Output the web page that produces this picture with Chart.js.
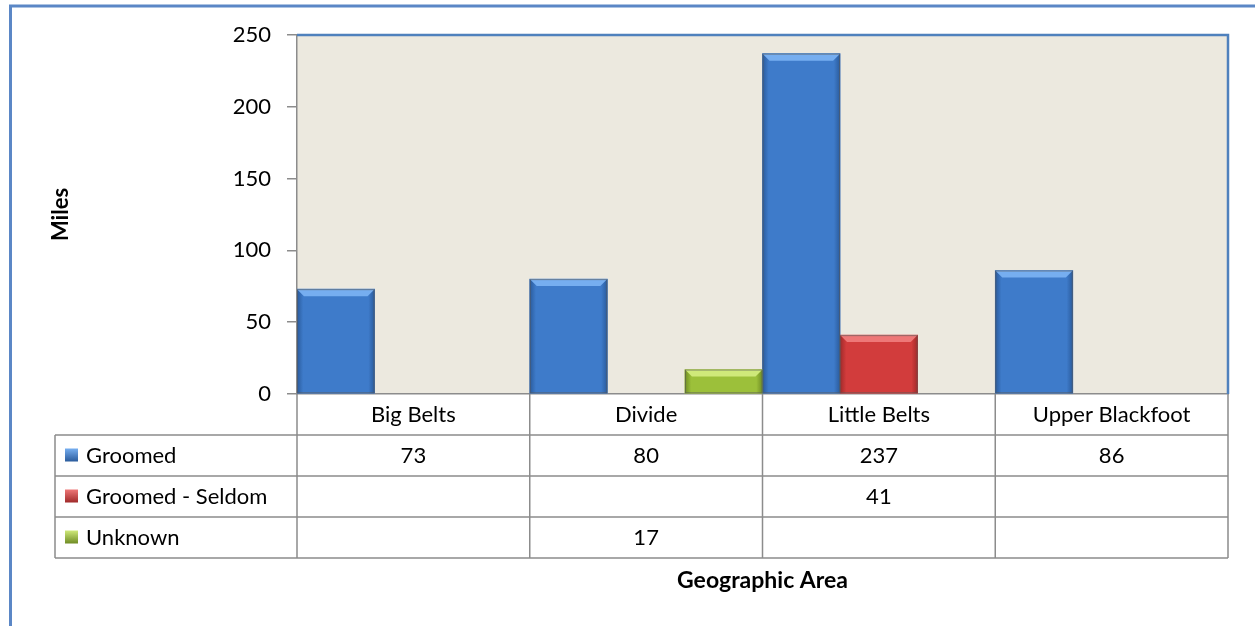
<!DOCTYPE html>
<html>
<head>
<meta charset="utf-8">
<script src="https://cdn.jsdelivr.net/npm/chart.js@4.4.1/dist/chart.umd.min.js"></script>
<style>
  html,body{margin:0;padding:0;background:#fff;}
  #wrap{width:1255px;height:626px;}
</style>
</head>
<body>
<div id="wrap"><canvas id="chart" width="1255" height="626"></canvas></div>
<script>
const categories = ['Big Belts','Divide','Little Belts','Upper Blackfoot'];
const groomed = [73, 80, 237, 86];
const seldom = [null, null, 41, null];
const unknown = [null, 17, null, null];
const seriesNames = ['Groomed','Groomed - Seldom','Unknown'];
const yTicks = [0, 50, 100, 150, 200, 250];

const FONT = 'Lato, "Open Sans", sans-serif';
const fills = ['#3e7bca','#d23c3c','#9cc03a'];
const lights = ['#76aef0','#ee7777','#cfe97a'];
const darks = ['#2a5b9c','#a02a2a','#6f8c24'];

// white page + thin blue frame + plot background
const framePlugin = {
  id:'frame',
  beforeDraw(chart){
    const {ctx, chartArea:a} = chart;
    ctx.save();
    ctx.fillStyle = '#fff';
    ctx.fillRect(0,0,chart.width,chart.height);
    ctx.strokeStyle = '#5b87c6';
    ctx.lineWidth = 3;
    ctx.beginPath();
    ctx.moveTo(10.5, chart.height);
    ctx.lineTo(10.5, 6);
    ctx.lineTo(chart.width, 6);
    ctx.stroke();
    ctx.fillStyle = '#ece9df';
    ctx.fillRect(a.left, a.top, a.right-a.left, a.bottom-a.top);
    ctx.restore();
  },
  afterDatasetsDraw(chart){
    const {ctx, chartArea:a} = chart;
    ctx.save();
    // bevel look on bars
    chart.data.datasets.forEach((ds, di)=>{
      chart.getDatasetMeta(di).data.forEach((bar, i)=>{
        if(ds.data[i]==null) return;
        const l = bar.x - bar.width/2, r = bar.x + bar.width/2, t = bar.y, b = bar.base;
        const g = ctx.createLinearGradient(l,0,r,0);
        g.addColorStop(0, darks[di]);
        g.addColorStop(0.08, fills[di]);
        g.addColorStop(0.92, fills[di]);
        g.addColorStop(1, darks[di]);
        ctx.fillStyle = g;
        ctx.fillRect(l, t, r-l, b-t);
        const bev = Math.min(7, (b-t)/3);
        ctx.fillStyle = lights[di];
        ctx.beginPath();
        ctx.moveTo(l, t); ctx.lineTo(r, t); ctx.lineTo(r-bev, t+bev); ctx.lineTo(l+bev, t+bev);
        ctx.closePath(); ctx.fill();
        ctx.strokeStyle = 'rgba(90,90,90,0.6)';
        ctx.lineWidth = 1;
        ctx.strokeRect(l+0.5, t+0.5, r-l-1, b-t-1);
      });
    });
    // plot border top + right
    ctx.strokeStyle = '#4f81bd';
    ctx.lineWidth = 2.5;
    ctx.beginPath();
    ctx.moveTo(a.left, a.top);
    ctx.lineTo(a.right, a.top);
    ctx.lineTo(a.right, a.bottom);
    ctx.stroke();
    ctx.restore();
  }
};

// data table under the plot
const tablePlugin = {
  id:'datatable',
  afterDraw(chart){
    const {ctx, chartArea:a, scales:{x}} = chart;
    const rowH = 41;
    const half = (a.right - a.left) / categories.length / 2;
    const tableLeft = 55;
    const rows = [groomed, seldom, unknown];
    const bottom = a.bottom + (rows.length+1)*rowH;
    ctx.save();
    ctx.strokeStyle = '#8c8c8c';
    ctx.lineWidth = 1.5;
    ctx.beginPath();
    for(let r=1;r<=rows.length+1;r++){
      const y = a.bottom + r*rowH;
      ctx.moveTo(tableLeft, y); ctx.lineTo(a.right, y);
    }
    categories.forEach((c,i)=>{
      const xl = x.getPixelForValue(i) - half;
      ctx.moveTo(xl, a.bottom); ctx.lineTo(xl, bottom);
    });
    ctx.moveTo(a.right, a.bottom); ctx.lineTo(a.right, bottom);
    ctx.moveTo(tableLeft, a.bottom+rowH); ctx.lineTo(tableLeft, bottom);
    ctx.stroke();

    ctx.fillStyle = '#000';
    ctx.font = '22px ' + FONT;
    ctx.textBaseline = 'middle';
    ctx.textAlign = 'center';
    categories.forEach((c,i)=>{
      const cx = x.getPixelForValue(i);
      ctx.fillText(c, cx, a.bottom + rowH/2);
      rows.forEach((vals, r)=>{
        if(vals[i]!=null) ctx.fillText(String(vals[i]), cx, a.bottom + (r+1.5)*rowH);
      });
    });
    ctx.textAlign = 'left';
    seriesNames.forEach((n, r)=>{
      const cy = a.bottom + (r+1.5)*rowH;
      const g = ctx.createLinearGradient(0, cy-7, 0, cy+6);
      g.addColorStop(0, lights[r]); g.addColorStop(1, darks[r]);
      ctx.fillStyle = g;
      ctx.fillRect(65, cy-7, 13, 13);
      ctx.fillStyle = '#000';
      ctx.fillText(n, 86, cy);
    });
    ctx.restore();
  }
};

new Chart(document.getElementById('chart'), {
  type:'bar',
  data:{
    labels: categories,
    datasets:[
      { label: seriesNames[0], data: groomed, backgroundColor: fills[0] },
      { label: seriesNames[1], data: seldom, backgroundColor: fills[1] },
      { label: seriesNames[2], data: unknown, backgroundColor: fills[2] }
    ]
  },
  options:{
    responsive:false,
    animation:false,
    layout:{ padding:{ top:35, right:27, left:0, bottom:0 } },
    datasets:{ bar:{ categoryPercentage:1, barPercentage:1 } },
    plugins:{ legend:{display:false}, tooltip:{enabled:false} },
    scales:{
      x:{
        grid:{ display:false },
        ticks:{ display:false },
        border:{ display:true, color:'#8c8c8c', width:1.5 },
        title:{ display:true, text:'Geographic Area', color:'#000',
          font:{ family:FONT, size:23, weight:'bold' }, padding:{ top:0, bottom:32 } },
        afterFit(s){ s.height = 232; }
      },
      y:{
        min:0, max:250,
        afterBuildTicks(s){ s.ticks = yTicks.map(v=>({value:v})); },
        ticks:{ color:'#000', padding:16, font:{ family:FONT, size:22 } },
        grid:{ drawOnChartArea:false, tickLength:10, color:'#8c8c8c', lineWidth:1.5 },
        border:{ display:true, color:'#8c8c8c', width:1.5 },
        title:{ display:true, text:'Miles', color:'#000',
          font:{ family:FONT, size:22, weight:'bold' }, padding:{ top:48, bottom:0 } },
        afterFit(s){ s.width = 297; }
      }
    }
  },
  plugins:[framePlugin, tablePlugin]
});
</script>
</body>
</html>
